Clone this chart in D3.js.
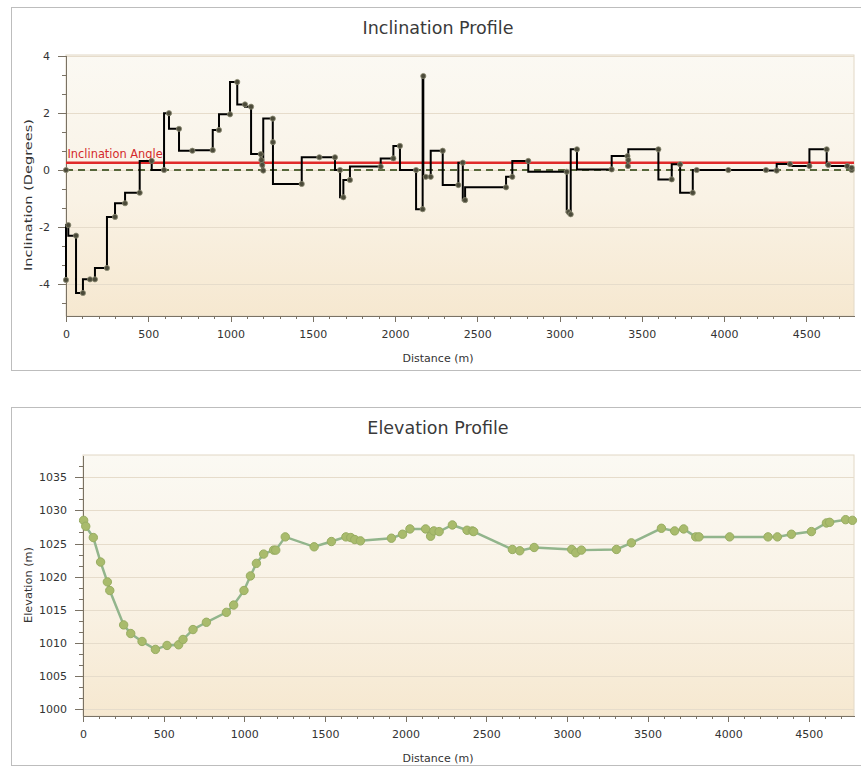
<!DOCTYPE html>
<html lang="en">
  <head>
    <meta charset="UTF-8">
    <script type="text/javascript" src="https://cdn.jsdelivr.net/npm/d3@7"></script>
    <style>
      body { margin: 0; background: #fff; }
      .axis path,
      .axis line {
        stroke: #7a7264;
        shape-rendering: crispEdges;
      }
      .axis text {
        font-family: 'DejaVu Sans', sans-serif;
        font-size: 11px;
        fill: #333;
      }
      .title {
        font-family: 'DejaVu Sans', sans-serif;
        font-size: 17.5px;
        fill: #3a3a3a;
      }
      .label {
        font-family: 'DejaVu Sans', sans-serif;
        font-size: 11px;
        fill: #333;
      }
    </style>
    <title>Inclination and Elevation Profile</title>
  </head>
  <body>
    <script type="text/javascript">
      let w = 861;
      let h = 767;

      // Inclination profile (distance in m, inclination in degrees)
      let incDistance = [0, 14, 61, 103, 146, 176, 249, 298, 359, 448, 521, 596, 626, 687, 768, 892, 930, 997,
        1041, 1088, 1125, 1184, 1188, 1193, 1199, 1257, 1258, 1433, 1540, 1635, 1666, 1686, 1726, 1913, 1990,
        2030, 2128, 2168, 2172, 2187, 2217, 2290, 2385, 2412, 2426, 2675, 2713, 2810, 3044, 3055, 3068, 3106,
        3317, 3413, 3416, 3418, 3601, 3682, 3733, 3810, 3834, 4026, 4255, 4320, 4401, 4519, 4624, 4634, 4749, 4776];
      let incValues = [-3.87, -1.94, -2.31, -4.33, -3.85, -3.85, -3.45, -1.65, -1.17, -0.80, 0.32, 0.00, 2.00,
        1.45, 0.68, 0.70, 1.41, 1.96, 3.10, 2.31, 2.23, 0.56, 0.35, 0.18, -0.02, 1.81, 0.98, -0.49, 0.45, 0.45,
        0.00, -0.96, -0.35, 0.12, 0.41, 0.85, 0.00, -1.38, 3.31, -0.24, -0.24, 0.68, -0.53, 0.26, -1.06, -0.61,
        -0.24, 0.32, -0.06, -1.48, -1.56, 0.73, 0.02, 0.49, 0.14, 0.35, 0.73, -0.33, 0.20, -0.80, 0.00, 0.00,
        0.00, -0.02, 0.21, 0.14, 0.73, 0.18, 0.14, 0.08];
      let inclinationAngle = 0.26;
      let zeroLine = [[0, 0], [4776, 0]];

      // Elevation profile (distance in m, elevation in m)
      let elevDistance = [4, 17, 64, 109, 151, 166, 252, 296, 366, 449, 521, 593, 620, 682, 765, 889, 934, 998,
        1038, 1075, 1120, 1182, 1195, 1254, 1433, 1540, 1630, 1660, 1685, 1720, 1912, 1981, 2027, 2124, 2155,
        2175, 2208, 2290, 2381, 2414, 2422, 2662, 2708, 2797, 3030, 3055, 3090, 3307, 3400, 3586, 3668, 3724,
        3799, 3819, 4009, 4247, 4305, 4392, 4516, 4609, 4629, 4728, 4770];
      let elevValues = [1028.5, 1027.6, 1025.9, 1022.2, 1019.2, 1017.9, 1012.7, 1011.4, 1010.2, 1009.0, 1009.6,
        1009.7, 1010.5, 1012.0, 1013.1, 1014.6, 1015.7, 1017.9, 1020.1, 1022.0, 1023.4, 1024.0, 1024.0, 1026.0,
        1024.5, 1025.3, 1026.0, 1025.9, 1025.6, 1025.4, 1025.8, 1026.4, 1027.2, 1027.2, 1026.1, 1026.9, 1026.8,
        1027.8, 1027.0, 1026.9, 1026.8, 1024.1, 1023.9, 1024.4, 1024.1, 1023.6, 1024.0, 1024.1, 1025.1, 1027.3,
        1026.9, 1027.2, 1026.0, 1026.0, 1026.0, 1026.0, 1026.0, 1026.4, 1026.8, 1028.1, 1028.2, 1028.6, 1028.5];

      // Tick labels
      let xTicks = [0, 500, 1000, 1500, 2000, 2500, 3000, 3500, 4000, 4500];
      let incTicks = [-4, -2, 0, 2, 4];
      let elevTicks = [1000, 1005, 1010, 1015, 1020, 1025, 1030, 1035];

      let incData = incDistance.map((d, i) => [d, incValues[i]]);
      let elevData = elevDistance.map((d, i) => [d, elevValues[i]]);

      // plain labels: no thousands separator, ascii minus
      let plain = d => String(d);

      let svg = d3.select('body')
                  .append('svg')
                  .attr('width', w)
                  .attr('height', h);

      let defs = svg.append('defs');
      let grad = defs.append('linearGradient')
                     .attr('id', 'plotBg')
                     .attr('x1', 0).attr('y1', 0)
                     .attr('x2', 0).attr('y2', 1);
      grad.append('stop').attr('offset', '0%').attr('stop-color', '#fbf9f3');
      grad.append('stop').attr('offset', '55%').attr('stop-color', '#f9f2e5');
      grad.append('stop').attr('offset', '100%').attr('stop-color', '#f6e8d0');

      // Draws the frame, background, grid and axes of one chart panel
      function drawPanel(cfg) {
        let g = svg.append('g');

        // outer white panel
        g.append('rect')
          .attr('x', 11.5).attr('y', cfg.panelTop + 0.5)
          .attr('width', 870).attr('height', cfg.panelHeight)
          .attr('fill', '#fff')
          .attr('stroke', '#bdbdbd');

        g.append('text')
          .attr('class', 'title')
          .attr('x', 438).attr('y', cfg.panelTop + 27)
          .attr('text-anchor', 'middle')
          .text(cfg.title);

        // plot area
        g.append('rect')
          .attr('x', cfg.left).attr('y', cfg.top)
          .attr('width', cfg.right - cfg.left).attr('height', cfg.bottom - cfg.top)
          .attr('fill', 'url(#plotBg)')
          .attr('stroke', '#e2d8c6');

        // horizontal grid lines
        g.selectAll('.grid')
          .data(cfg.yTicks)
          .enter()
          .append('line')
          .attr('x1', cfg.left).attr('x2', cfg.right)
          .attr('y1', d => Math.round(cfg.y(d)) + 0.5)
          .attr('y2', d => Math.round(cfg.y(d)) + 0.5)
          .attr('stroke', '#e6dccb')
          .attr('stroke-width', 1);

        // minor ticks
        g.append('g')
          .attr('class', 'axis')
          .attr('transform', 'translate(0,' + cfg.bottom + ')')
          .call(d3.axisBottom(cfg.x).tickValues(d3.range(0, cfg.x.domain()[1], 100)).tickSize(3).tickFormat(''))
          .select('.domain').remove();
        g.append('g')
          .attr('class', 'axis')
          .attr('transform', 'translate(' + cfg.left + ',0)')
          .call(d3.axisLeft(cfg.y).tickValues(cfg.yMinor).tickSize(4).tickFormat(''))
          .select('.domain').remove();

        // major axes
        g.append('g')
          .attr('class', 'axis')
          .attr('transform', 'translate(0,' + cfg.bottom + ')')
          .call(d3.axisBottom(cfg.x).tickValues(xTicks).tickFormat(plain)
                  .tickSizeInner(6).tickSizeOuter(0).tickPadding(8));
        g.append('g')
          .attr('class', 'axis')
          .attr('transform', 'translate(' + cfg.left + ',0)')
          .call(d3.axisLeft(cfg.y).tickValues(cfg.yTicks).tickFormat(plain)
                  .tickSizeInner(8).tickSizeOuter(0).tickPadding(8));

        // axis titles
        g.append('text')
          .attr('class', 'label')
          .attr('x', 438).attr('y', cfg.bottom + 46)
          .attr('text-anchor', 'middle')
          .text('Distance (m)');
        g.append('text')
          .attr('class', 'label')
          .attr('transform', 'translate(32,' + cfg.yLabelMid + ') rotate(-90)')
          .attr('text-anchor', 'middle')
          .attr('textLength', cfg.yLabelLength)
          .attr('lengthAdjust', 'spacingAndGlyphs')
          .text(cfg.yLabel);

        return g;
      }

      /* ---------- Inclination Profile ---------- */
      let xInc = d3.scaleLinear().domain([0, 4790]).range([66, 854]);
      let yInc = d3.scaleLinear().domain([-5.14, 4.05]).range([316, 55]);

      let g1 = drawPanel({
        title: 'Inclination Profile',
        panelTop: 7, panelHeight: 363,
        left: 66, right: 854, top: 55, bottom: 316,
        x: xInc, y: yInc,
        yTicks: incTicks,
        yMinor: d3.range(-14, 13).map(k => k * 2 / 3).filter(v => v >= -5.1 && v <= 4.05),
        yLabel: 'Inclination (Degrees)', yLabelMid: 195, yLabelLength: 152
      });

      // zero reference line
      g1.append('path')
        .datum(zeroLine)
        .attr('d', d3.line().x(d => xInc(d[0])).y(d => yInc(d[1])))
        .attr('fill', 'none')
        .attr('stroke', '#56663a')
        .attr('stroke-width', 2)
        .attr('stroke-dasharray', '7,5');
      g1.selectAll('.zeroPt')
        .data(zeroLine)
        .enter()
        .append('circle')
        .attr('cx', d => xInc(d[0]))
        .attr('cy', d => yInc(d[1]))
        .attr('r', 2.6)
        .attr('fill', '#4c4b3a')
        .attr('stroke', '#8d8b74')
        .attr('stroke-width', 0.8);

      // inclination angle line
      g1.append('line')
        .attr('x1', xInc(0)).attr('x2', xInc(4790))
        .attr('y1', yInc(inclinationAngle)).attr('y2', yInc(inclinationAngle))
        .attr('stroke', '#e02a2a')
        .attr('stroke-width', 2.5);
      g1.append('text')
        .attr('x', xInc(0) + 1.5)
        .attr('y', yInc(inclinationAngle) - 5)
        .attr('font-family', 'DejaVu Sans, sans-serif')
        .attr('font-size', '11.4px')
        .attr('fill', '#d42a2a')
        .text('Inclination Angle');

      // stepped inclination profile
      g1.append('path')
        .datum(incData)
        .attr('d', d3.line().x(d => xInc(d[0])).y(d => yInc(d[1])).curve(d3.curveStepBefore))
        .attr('fill', 'none')
        .attr('stroke', '#000')
        .attr('stroke-width', 2);
      g1.selectAll('.incPt')
        .data(incData)
        .enter()
        .append('circle')
        .attr('cx', d => xInc(d[0]))
        .attr('cy', d => yInc(d[1]))
        .attr('r', 2.6)
        .attr('fill', '#4c4b3a')
        .attr('stroke', '#8d8b74')
        .attr('stroke-width', 0.8);

      /* ---------- Elevation Profile ---------- */
      let xElev = d3.scaleLinear().domain([0, 4780]).range([83, 854]);
      let yElev = d3.scaleLinear().domain([998.94, 1038.37]).range([716, 455]);

      let g2 = drawPanel({
        title: 'Elevation Profile',
        panelTop: 407, panelHeight: 358,
        left: 83, right: 854, top: 455, bottom: 716,
        x: xElev, y: yElev,
        yTicks: elevTicks,
        yMinor: d3.range(0, 24).map(k => 1000 + k * 5 / 3).filter(v => v <= 1038.3),
        yLabel: 'Elevation (m)', yLabelMid: 585, yLabelLength: 76
      });

      g2.append('path')
        .datum(elevData)
        .attr('d', d3.line().x(d => xElev(d[0])).y(d => yElev(d[1])))
        .attr('fill', 'none')
        .attr('stroke', '#92b58c')
        .attr('stroke-width', 2.5);
      g2.selectAll('.elevPt')
        .data(elevData)
        .enter()
        .append('circle')
        .attr('cx', d => xElev(d[0]))
        .attr('cy', d => yElev(d[1]))
        .attr('r', 4.2)
        .attr('fill', '#a9bb6c')
        .attr('stroke', '#98ad62')
        .attr('stroke-width', 1);
    </script>
  </body>
</html>
